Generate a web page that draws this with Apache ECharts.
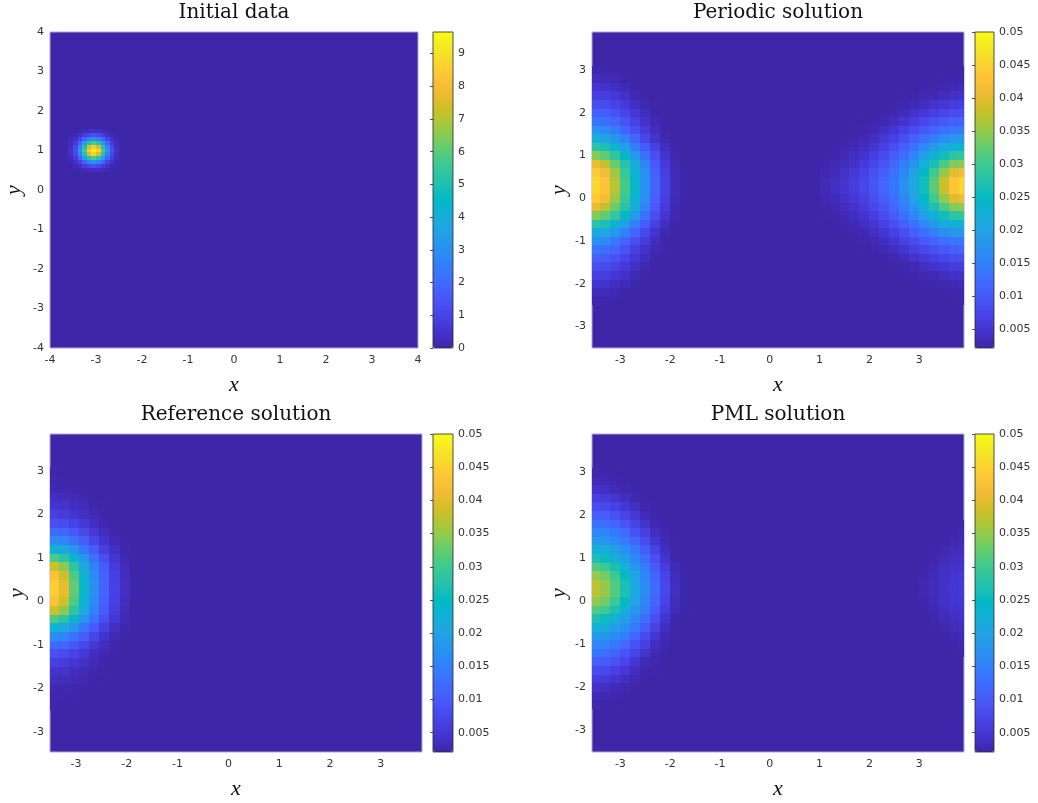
<!DOCTYPE html>
<html>
<head>
<meta charset="utf-8">
<script src="https://cdn.jsdelivr.net/npm/echarts@6/dist/echarts.min.js"></script>
<style>
html, body { margin: 0; padding: 0; background: #ffffff; }
#chart { width: 1038px; height: 803px; }
</style>
</head>
<body>
<div id="chart"></div>
<script>
// ---------------- colour map (MATLAB parula, every 3rd entry of the 64-colour table) ----------------
const parula = ['#3e26a8', '#4432cb', '#4741e5', '#4852f4', '#4563fd', '#3875fe', '#2e87f7', '#2796eb',
  '#20a5e3', '#12b1d6', '#02bac3', '#24c1ae', '#37c897', '#57cc7a', '#81cc59', '#abc739',
  '#d1bf27', '#f0ba36', '#fec338', '#fad62d', '#f5e924', '#f9fb15'];

// ---------------- text ----------------
const panelTitles = ['Initial data', 'Periodic solution', 'Reference solution', 'PML solution'];
const xAxisName = 'x';
const yAxisName = 'y';

// ---------------- panel 1: initial data ----------------
const initialAxisTicks = [-4, -3, -2, -1, 0, 1, 2, 3, 4];
const initialColorbarTicks = [0, 1, 2, 3, 4, 5, 6, 7, 8, 9];
const initialColorbarMin = 0;
const initialColorbarMax = 9.66;
const initialCell = 0.1;
const initialX = [-3.55, -3.45, -3.35, -3.25, -3.15, -3.05, -2.95, -2.85, -2.75, -2.65, -2.55];
const initialY = [1.5, 1.4, 1.3, 1.2, 1.1, 1.0, 0.9, 0.8, 0.7, 0.6, 0.5];
const initialValues = [
  [0.02, 0.05, 0.12, 0.23, 0.34, 0.39, 0.34, 0.23, 0.12, 0.05, 0.02],
  [0.05, 0.16, 0.39, 0.74, 1.09, 1.24, 1.09, 0.74, 0.39, 0.16, 0.05],
  [0.12, 0.39, 0.96, 1.82, 2.68, 3.05, 2.68, 1.82, 0.96, 0.39, 0.12],
  [0.23, 0.74, 1.82, 3.46, 5.09, 5.78, 5.09, 3.46, 1.82, 0.74, 0.23],
  [0.34, 1.09, 2.68, 5.09, 7.48, 8.50, 7.48, 5.09, 2.68, 1.09, 0.34],
  [0.39, 1.24, 3.05, 5.78, 8.50, 9.66, 8.50, 5.78, 3.05, 1.24, 0.39],
  [0.34, 1.09, 2.68, 5.09, 7.48, 8.50, 7.48, 5.09, 2.68, 1.09, 0.34],
  [0.23, 0.74, 1.82, 3.46, 5.09, 5.78, 5.09, 3.46, 1.82, 0.74, 0.23],
  [0.12, 0.39, 0.96, 1.82, 2.68, 3.05, 2.68, 1.82, 0.96, 0.39, 0.12],
  [0.05, 0.16, 0.39, 0.74, 1.09, 1.24, 1.09, 0.74, 0.39, 0.16, 0.05],
  [0.02, 0.05, 0.12, 0.23, 0.34, 0.39, 0.34, 0.23, 0.12, 0.05, 0.02]
];

// ---------------- panels 2-4: solutions (field values below are in units of 1e-3) ----------------
const solutionUnit = 1e-3;
const periodicXRange = [-3.57, 3.9];
const periodicYRange = [-3.5, 3.89];
const referenceXRange = [-3.51, 3.81];
const referenceYRange = [-3.46, 3.85];
const pmlXRange = [-3.57, 3.9];
const pmlYRange = [-3.5, 3.89];
const solutionAxisTicks = [-3, -2, -1, 0, 1, 2, 3];
const solutionColorbarTicks = [0.005, 0.01, 0.015, 0.02, 0.025, 0.03, 0.035, 0.04, 0.045, 0.05];
const solutionColorbarMin = 0.0021;
const solutionColorbarMax = 0.05;
const solutionCell = 0.2;
const solutionY = [3.0, 2.8, 2.6, 2.4, 2.2, 2.0, 1.8, 1.6, 1.4, 1.2, 1.0, 0.8, 0.6, 0.4,
  0.2, 0.0, -0.2, -0.4, -0.6, -0.8, -1.0, -1.2, -1.4, -1.6, -1.8, -2.0, -2.2, -2.4];
const leftBlobX = [-3.5, -3.3, -3.1, -2.9, -2.7, -2.5, -2.3, -2.1, -1.9, -1.7];
const referenceBlobX = [-3.44, -3.24, -3.04, -2.84, -2.64, -2.44, -2.24, -2.04, -1.84, -1.64];
const rightBlobX = [1.1, 1.3, 1.5, 1.7, 1.9, 2.1, 2.3, 2.5, 2.7, 2.9, 3.1, 3.3, 3.5, 3.7, 3.9];
const pmlRightX = [3.1, 3.3, 3.5, 3.7, 3.9];
const pmlRightY = [1.8, 1.6, 1.4, 1.2, 1.0, 0.8, 0.6, 0.4, 0.2, 0.0, -0.2, -0.4, -0.6, -0.8, -1.0, -1.2];

const periodicLeft = [
  [2.5, 2.4, 2.2, 2.1, 2.1, 2.1, 2.1, 2.1, 2.1, 2.1],
  [3.4, 3.1, 2.8, 2.3, 2.1, 2.1, 2.1, 2.1, 2.1, 2.1],
  [4.8, 4.4, 3.8, 3.0, 2.3, 2.1, 2.1, 2.1, 2.1, 2.1],
  [6.4, 6.0, 5.1, 4.0, 2.9, 2.3, 2.1, 2.1, 2.1, 2.1],
  [8.5, 7.9, 6.9, 5.4, 3.9, 2.7, 2.2, 2.1, 2.1, 2.1],
  [11.0, 10.3, 8.9, 7.1, 5.2, 3.4, 2.3, 2.1, 2.1, 2.1],
  [13.6, 12.8, 11.3, 9.1, 6.7, 4.4, 2.8, 2.2, 2.1, 2.1],
  [17.3, 16.4, 14.1, 11.5, 8.5, 5.8, 3.5, 2.3, 2.1, 2.1],
  [21.8, 20.6, 18.2, 14.9, 11.2, 7.6, 4.7, 2.7, 2.1, 2.1],
  [27.9, 26.6, 23.5, 19.3, 14.8, 10.3, 6.5, 3.6, 2.2, 2.1],
  [34.1, 32.1, 28.8, 24.2, 18.6, 12.9, 8.4, 4.8, 2.6, 2.1],
  [40.6, 37.7, 32.6, 27.6, 21.4, 15.4, 9.9, 5.7, 2.9, 2.1],
  [44.1, 41.5, 35.5, 29.4, 23.2, 16.8, 10.8, 6.3, 3.2, 2.2],
  [45.6, 42.9, 37.0, 30.3, 23.9, 17.3, 11.2, 6.6, 3.4, 2.2],
  [45.6, 42.9, 37.0, 30.3, 23.9, 17.3, 11.2, 6.6, 3.4, 2.2],
  [44.1, 41.5, 35.5, 29.4, 23.2, 16.8, 10.8, 6.3, 3.2, 2.2],
  [40.6, 37.7, 32.6, 27.6, 21.4, 15.4, 9.9, 5.7, 2.9, 2.1],
  [34.1, 32.1, 28.8, 24.2, 18.6, 12.9, 8.4, 4.8, 2.6, 2.1],
  [27.9, 26.6, 23.5, 19.3, 14.8, 10.3, 6.5, 3.6, 2.2, 2.1],
  [21.8, 20.6, 18.2, 14.9, 11.2, 7.6, 4.7, 2.7, 2.1, 2.1],
  [17.3, 16.4, 14.1, 11.5, 8.5, 5.8, 3.5, 2.3, 2.1, 2.1],
  [13.6, 12.8, 11.3, 9.1, 6.7, 4.4, 2.8, 2.2, 2.1, 2.1],
  [11.0, 10.3, 8.9, 7.1, 5.2, 3.4, 2.3, 2.1, 2.1, 2.1],
  [8.5, 7.9, 6.9, 5.4, 3.9, 2.7, 2.2, 2.1, 2.1, 2.1],
  [6.4, 6.0, 5.1, 4.0, 2.9, 2.3, 2.1, 2.1, 2.1, 2.1],
  [4.8, 4.4, 3.8, 3.0, 2.3, 2.1, 2.1, 2.1, 2.1, 2.1],
  [3.4, 3.1, 2.8, 2.3, 2.1, 2.1, 2.1, 2.1, 2.1, 2.1],
  [2.5, 2.4, 2.2, 2.1, 2.1, 2.1, 2.1, 2.1, 2.1, 2.1]
];

const periodicRight = [
  [2.1, 2.1, 2.1, 2.1, 2.1, 2.1, 2.1, 2.1, 2.1, 2.1, 2.1, 2.1, 2.1, 2.1, 2.2],
  [2.1, 2.1, 2.1, 2.1, 2.1, 2.1, 2.1, 2.1, 2.1, 2.1, 2.1, 2.1, 2.2, 2.3, 2.4],
  [2.1, 2.1, 2.1, 2.1, 2.1, 2.1, 2.1, 2.1, 2.1, 2.1, 2.2, 2.4, 2.6, 2.9, 3.1],
  [2.1, 2.1, 2.1, 2.1, 2.1, 2.1, 2.1, 2.1, 2.2, 2.3, 2.6, 2.9, 3.5, 4.1, 4.4],
  [2.1, 2.1, 2.1, 2.1, 2.1, 2.1, 2.1, 2.2, 2.5, 2.9, 3.7, 4.5, 5.1, 5.8, 6.2],
  [2.1, 2.1, 2.1, 2.1, 2.1, 2.1, 2.3, 2.6, 3.4, 4.3, 5.3, 6.4, 7.3, 8.1, 8.4],
  [2.1, 2.1, 2.1, 2.1, 2.2, 2.4, 2.9, 3.7, 4.8, 6.1, 7.5, 8.7, 9.8, 10.7, 11.1],
  [2.1, 2.1, 2.1, 2.2, 2.4, 2.9, 3.8, 5.1, 6.6, 8.2, 9.9, 11.4, 12.9, 13.9, 14.4],
  [2.1, 2.1, 2.2, 2.4, 2.9, 3.8, 5.1, 6.7, 8.6, 10.5, 12.7, 14.8, 16.6, 18.0, 18.5],
  [2.1, 2.2, 2.4, 2.9, 3.7, 4.9, 6.6, 8.5, 10.6, 13.1, 15.9, 18.8, 21.4, 23.0, 23.5],
  [2.2, 2.4, 2.9, 3.7, 4.7, 6.2, 8.0, 10.1, 12.7, 15.7, 19.4, 23.0, 25.9, 28.2, 28.9],
  [2.4, 2.8, 3.5, 4.4, 5.7, 7.4, 9.3, 11.6, 14.5, 17.9, 22.4, 26.6, 30.8, 33.8, 34.9],
  [2.7, 3.3, 4.2, 5.3, 6.7, 8.4, 10.4, 12.9, 16.0, 20.0, 24.7, 29.9, 35.0, 39.7, 41.4],
  [3.0, 3.8, 4.8, 6.1, 7.6, 9.3, 11.3, 13.8, 16.8, 20.9, 25.9, 31.8, 38.1, 43.4, 45.3],
  [3.0, 3.8, 4.8, 6.1, 7.6, 9.3, 11.3, 13.8, 16.8, 20.9, 25.9, 31.8, 38.1, 43.4, 45.3],
  [2.7, 3.3, 4.2, 5.3, 6.7, 8.4, 10.4, 12.9, 16.0, 20.0, 24.7, 29.9, 35.0, 39.7, 41.4],
  [2.4, 2.8, 3.5, 4.4, 5.7, 7.4, 9.3, 11.6, 14.5, 17.9, 22.4, 26.6, 30.8, 33.8, 34.9],
  [2.2, 2.4, 2.9, 3.7, 4.7, 6.2, 8.0, 10.1, 12.7, 15.7, 19.4, 23.0, 25.9, 28.2, 28.9],
  [2.1, 2.2, 2.4, 2.9, 3.7, 4.9, 6.6, 8.5, 10.6, 13.1, 15.9, 18.8, 21.4, 23.0, 23.5],
  [2.1, 2.1, 2.2, 2.4, 2.9, 3.8, 5.1, 6.7, 8.6, 10.5, 12.7, 14.8, 16.6, 18.0, 18.5],
  [2.1, 2.1, 2.1, 2.2, 2.4, 2.9, 3.8, 5.1, 6.6, 8.2, 9.9, 11.4, 12.9, 13.9, 14.4],
  [2.1, 2.1, 2.1, 2.1, 2.2, 2.4, 2.9, 3.7, 4.8, 6.1, 7.5, 8.7, 9.8, 10.7, 11.1],
  [2.1, 2.1, 2.1, 2.1, 2.1, 2.1, 2.3, 2.6, 3.4, 4.3, 5.3, 6.4, 7.3, 8.1, 8.4],
  [2.1, 2.1, 2.1, 2.1, 2.1, 2.1, 2.1, 2.2, 2.5, 2.9, 3.7, 4.5, 5.1, 5.8, 6.2],
  [2.1, 2.1, 2.1, 2.1, 2.1, 2.1, 2.1, 2.1, 2.2, 2.3, 2.6, 2.9, 3.5, 4.1, 4.4],
  [2.1, 2.1, 2.1, 2.1, 2.1, 2.1, 2.1, 2.1, 2.1, 2.1, 2.2, 2.4, 2.6, 2.9, 3.1],
  [2.1, 2.1, 2.1, 2.1, 2.1, 2.1, 2.1, 2.1, 2.1, 2.1, 2.1, 2.1, 2.2, 2.3, 2.4],
  [2.1, 2.1, 2.1, 2.1, 2.1, 2.1, 2.1, 2.1, 2.1, 2.1, 2.1, 2.1, 2.1, 2.1, 2.2]
];

const referenceLeft = [
  [2.2, 2.1, 2.1, 2.1, 2.1, 2.1, 2.1, 2.1, 2.1, 2.1],
  [2.4, 2.3, 2.2, 2.1, 2.1, 2.1, 2.1, 2.1, 2.1, 2.1],
  [2.9, 2.7, 2.5, 2.2, 2.1, 2.1, 2.1, 2.1, 2.1, 2.1],
  [3.6, 3.4, 3.0, 2.6, 2.2, 2.1, 2.1, 2.1, 2.1, 2.1],
  [4.8, 4.4, 3.8, 3.1, 2.5, 2.2, 2.1, 2.1, 2.1, 2.1],
  [6.4, 5.8, 5.0, 4.0, 3.0, 2.3, 2.1, 2.1, 2.1, 2.1],
  [8.7, 8.0, 6.8, 5.3, 3.8, 2.7, 2.2, 2.1, 2.1, 2.1],
  [12.2, 11.4, 9.7, 7.4, 5.3, 3.5, 2.5, 2.1, 2.1, 2.1],
  [16.6, 15.4, 13.1, 10.4, 7.3, 4.7, 3.0, 2.2, 2.1, 2.1],
  [22.9, 21.3, 18.0, 13.9, 10.1, 6.4, 3.9, 2.5, 2.1, 2.1],
  [30.8, 28.3, 23.6, 18.2, 12.9, 8.5, 5.0, 2.9, 2.2, 2.1],
  [38.4, 34.6, 28.2, 21.5, 15.2, 10.1, 5.9, 3.3, 2.2, 2.1],
  [42.6, 38.5, 30.9, 23.2, 16.4, 10.9, 6.3, 3.5, 2.3, 2.1],
  [44.5, 40.2, 32.2, 24.1, 17.0, 11.2, 6.6, 3.6, 2.3, 2.1],
  [44.5, 40.2, 32.2, 24.1, 17.0, 11.2, 6.6, 3.6, 2.3, 2.1],
  [42.6, 38.5, 30.9, 23.2, 16.4, 10.9, 6.3, 3.5, 2.3, 2.1],
  [38.4, 34.6, 28.2, 21.5, 15.2, 10.1, 5.9, 3.3, 2.2, 2.1],
  [30.8, 28.3, 23.6, 18.2, 12.9, 8.5, 5.0, 2.9, 2.2, 2.1],
  [22.9, 21.3, 18.0, 13.9, 10.1, 6.4, 3.9, 2.5, 2.1, 2.1],
  [16.6, 15.4, 13.1, 10.4, 7.3, 4.7, 3.0, 2.2, 2.1, 2.1],
  [12.2, 11.4, 9.7, 7.4, 5.3, 3.5, 2.5, 2.1, 2.1, 2.1],
  [8.7, 8.0, 6.8, 5.3, 3.8, 2.7, 2.2, 2.1, 2.1, 2.1],
  [6.4, 5.8, 5.0, 4.0, 3.0, 2.3, 2.1, 2.1, 2.1, 2.1],
  [4.8, 4.4, 3.8, 3.1, 2.5, 2.2, 2.1, 2.1, 2.1, 2.1],
  [3.6, 3.4, 3.0, 2.6, 2.2, 2.1, 2.1, 2.1, 2.1, 2.1],
  [2.9, 2.7, 2.5, 2.2, 2.1, 2.1, 2.1, 2.1, 2.1, 2.1],
  [2.4, 2.3, 2.2, 2.1, 2.1, 2.1, 2.1, 2.1, 2.1, 2.1],
  [2.2, 2.1, 2.1, 2.1, 2.1, 2.1, 2.1, 2.1, 2.1, 2.1]
];

const pmlLeft = [
  [2.4, 2.3, 2.2, 2.1, 2.1, 2.1, 2.1, 2.1, 2.1, 2.1],
  [3.0, 2.8, 2.5, 2.3, 2.1, 2.1, 2.1, 2.1, 2.1, 2.1],
  [4.3, 3.9, 3.2, 2.7, 2.3, 2.1, 2.1, 2.1, 2.1, 2.1],
  [6.2, 5.7, 4.8, 3.7, 2.8, 2.3, 2.1, 2.1, 2.1, 2.1],
  [8.2, 7.7, 6.7, 5.2, 3.6, 2.5, 2.2, 2.1, 2.1, 2.1],
  [10.7, 10.1, 8.8, 7.2, 5.2, 3.3, 2.4, 2.1, 2.1, 2.1],
  [13.5, 12.8, 11.3, 9.2, 7.1, 4.6, 2.8, 2.2, 2.1, 2.1],
  [16.0, 15.3, 14.1, 11.8, 9.0, 6.3, 3.6, 2.4, 2.1, 2.1],
  [18.7, 17.9, 16.4, 14.4, 11.4, 8.1, 5.0, 2.8, 2.2, 2.1],
  [22.4, 21.4, 19.4, 16.8, 14.1, 10.3, 6.8, 3.6, 2.3, 2.1],
  [26.9, 25.6, 22.8, 19.5, 16.2, 12.6, 8.4, 4.8, 2.5, 2.1],
  [31.3, 29.7, 26.7, 22.4, 18.2, 14.5, 10.1, 6.1, 3.0, 2.2],
  [35.0, 33.1, 29.7, 25.1, 20.1, 15.8, 11.4, 7.0, 3.4, 2.2],
  [37.4, 35.2, 31.4, 26.6, 21.1, 16.5, 12.2, 7.5, 3.8, 2.3],
  [37.4, 35.2, 31.4, 26.6, 21.1, 16.5, 12.2, 7.5, 3.8, 2.3],
  [35.0, 33.1, 29.7, 25.1, 20.1, 15.8, 11.4, 7.0, 3.4, 2.2],
  [31.3, 29.7, 26.7, 22.4, 18.2, 14.5, 10.1, 6.1, 3.0, 2.2],
  [26.9, 25.6, 22.8, 19.5, 16.2, 12.6, 8.4, 4.8, 2.5, 2.1],
  [22.4, 21.4, 19.4, 16.8, 14.1, 10.3, 6.8, 3.6, 2.3, 2.1],
  [18.7, 17.9, 16.4, 14.4, 11.4, 8.1, 5.0, 2.8, 2.2, 2.1],
  [16.0, 15.3, 14.1, 11.8, 9.0, 6.3, 3.6, 2.4, 2.1, 2.1],
  [13.5, 12.8, 11.3, 9.2, 7.1, 4.6, 2.8, 2.2, 2.1, 2.1],
  [10.7, 10.1, 8.8, 7.2, 5.2, 3.3, 2.4, 2.1, 2.1, 2.1],
  [8.2, 7.7, 6.7, 5.2, 3.6, 2.5, 2.2, 2.1, 2.1, 2.1],
  [6.2, 5.7, 4.8, 3.7, 2.8, 2.3, 2.1, 2.1, 2.1, 2.1],
  [4.3, 3.9, 3.2, 2.7, 2.3, 2.1, 2.1, 2.1, 2.1, 2.1],
  [3.0, 2.8, 2.5, 2.3, 2.1, 2.1, 2.1, 2.1, 2.1, 2.1],
  [2.4, 2.3, 2.2, 2.1, 2.1, 2.1, 2.1, 2.1, 2.1, 2.1]
];

const pmlRight = [
  [2.1, 2.1, 2.1, 2.1, 2.3],
  [2.1, 2.1, 2.1, 2.3, 2.6],
  [2.1, 2.1, 2.3, 2.7, 3.1],
  [2.1, 2.2, 2.6, 3.2, 3.7],
  [2.1, 2.4, 3.1, 3.8, 4.3],
  [2.2, 2.8, 3.6, 4.3, 4.8],
  [2.4, 3.2, 4.0, 4.7, 5.2],
  [2.6, 3.4, 4.2, 4.9, 5.4],
  [2.6, 3.4, 4.2, 4.9, 5.4],
  [2.4, 3.2, 4.0, 4.7, 5.2],
  [2.2, 2.8, 3.6, 4.3, 4.8],
  [2.1, 2.4, 3.1, 3.8, 4.3],
  [2.1, 2.2, 2.6, 3.2, 3.7],
  [2.1, 2.1, 2.3, 2.7, 3.1],
  [2.1, 2.1, 2.1, 2.3, 2.6],
  [2.1, 2.1, 2.1, 2.1, 2.3]
];

// ---------------- layout (pixels) ----------------
const plotBoxes = [
  { left: 50, top: 32, width: 368, height: 316 },
  { left: 592, top: 32, width: 372, height: 316 },
  { left: 50, top: 434, width: 372, height: 318 },
  { left: 592, top: 434, width: 372, height: 318 }
];
const barBoxes = [
  { left: 433, top: 32, width: 20, height: 316 },
  { left: 975, top: 32, width: 19, height: 316 },
  { left: 433, top: 434, width: 20, height: 318 },
  { left: 975, top: 434, width: 19, height: 318 }
];
const titleAnchors = [[234, 3], [778, 3], [236, 405], [778, 405]];
const axisRanges = [
  { x: [-4, 4], y: [-4, 4], ticks: initialAxisTicks },
  { x: periodicXRange, y: periodicYRange, ticks: solutionAxisTicks },
  { x: referenceXRange, y: referenceYRange, ticks: solutionAxisTicks },
  { x: pmlXRange, y: pmlYRange, ticks: solutionAxisTicks }
];

// ---------------- build ----------------
function toCells(xs, ys, grid, scale) {
  const out = [];
  ys.forEach(function (y, j) {
    xs.forEach(function (x, i) { out.push([x, y, grid[j][i] * scale]); });
  });
  return out;
}

function cellRenderer(cw, ch) {
  return function (params, api) {
    const x = api.value(0), y = api.value(1);
    const p0 = api.coord([x - cw / 2, y + ch / 2]);
    const p1 = api.coord([x + cw / 2, y - ch / 2]);
    const x0 = Math.round(p0[0]), y0 = Math.round(p0[1]);
    const x1 = Math.round(p1[0]), y1 = Math.round(p1[1]);
    const cs = params.coordSys;
    const rect = echarts.graphic.clipRectByRect(
      { x: x0, y: y0, width: x1 - x0, height: y1 - y0 },
      { x: cs.x, y: cs.y, width: cs.width, height: cs.height });
    if (!rect) return null;
    return { type: 'rect', shape: rect, style: { fill: api.visual('color') } };
  };
}

const tickFont = { fontFamily: 'DejaVu Sans', fontSize: 11, color: '#333333' };
const nameFont = { fontFamily: 'Liberation Serif', fontStyle: 'italic', fontSize: 22, color: '#111111' };

const grids = [];
const xAxes = [];
const yAxes = [];
plotBoxes.forEach(function (b, i) {
  grids.push({ left: b.left, top: b.top, width: b.width, height: b.height, show: true,
    backgroundColor: parula[0], borderColor: '#aba8da', borderWidth: 1, outerBoundsMode: 'none' });
  const r = axisRanges[i];
  xAxes.push({ gridIndex: i, type: 'value', min: r.x[0], max: r.x[1],
    axisLine: { show: false }, axisTick: { show: false }, splitLine: { show: false },
    axisLabel: Object.assign({ customValues: r.ticks, margin: 7 }, tickFont),
    name: xAxisName, nameLocation: 'middle', nameGap: 26, nameTextStyle: nameFont });
  yAxes.push({ gridIndex: i, type: 'value', min: r.y[0], max: r.y[1],
    axisLine: { show: false }, axisTick: { show: false }, splitLine: { show: false },
    axisLabel: Object.assign({ customValues: r.ticks, margin: 6 }, tickFont),
    name: yAxisName, nameLocation: 'middle', nameRotate: 90, nameGap: i === 0 ? 25 : 22, nameTextStyle: nameFont });
});
barBoxes.forEach(function (b, i) {
  const isInit = i === 0;
  grids.push({ left: b.left, top: b.top, width: b.width, height: b.height, show: true, z: 6,
    backgroundColor: 'transparent', borderColor: '#262626', borderWidth: 0.8, outerBoundsMode: 'none' });
  xAxes.push({ gridIndex: 4 + i, type: 'value', show: false, min: 0, max: 1 });
  const ticks = isInit ? initialColorbarTicks : solutionColorbarTicks;
  yAxes.push({ gridIndex: 4 + i, type: 'value', position: 'right', z: 7,
    min: isInit ? initialColorbarMin : solutionColorbarMin,
    max: isInit ? initialColorbarMax : solutionColorbarMax,
    axisLine: { show: false }, splitLine: { show: false },
    axisTick: { show: true, inside: true, length: 3, customValues: ticks, lineStyle: { color: '#262626', width: 0.8 } },
    axisLabel: Object.assign({ customValues: ticks, margin: 5,
      formatter: function (v) { return String(+(+v).toFixed(4)); } }, tickFont) });
});

const series = [
  { type: 'custom', xAxisIndex: 0, yAxisIndex: 0, silent: true, renderItem: cellRenderer(initialCell, initialCell),
    data: toCells(initialX, initialY, initialValues, 1) },
  { type: 'custom', xAxisIndex: 1, yAxisIndex: 1, silent: true, renderItem: cellRenderer(solutionCell, solutionCell),
    data: toCells(leftBlobX, solutionY, periodicLeft, solutionUnit) },
  { type: 'custom', xAxisIndex: 1, yAxisIndex: 1, silent: true, renderItem: cellRenderer(solutionCell, solutionCell),
    data: toCells(rightBlobX, solutionY, periodicRight, solutionUnit) },
  { type: 'custom', xAxisIndex: 2, yAxisIndex: 2, silent: true, renderItem: cellRenderer(solutionCell, solutionCell),
    data: toCells(referenceBlobX, solutionY, referenceLeft, solutionUnit) },
  { type: 'custom', xAxisIndex: 3, yAxisIndex: 3, silent: true, renderItem: cellRenderer(solutionCell, solutionCell),
    data: toCells(leftBlobX, solutionY, pmlLeft, solutionUnit) },
  { type: 'custom', xAxisIndex: 3, yAxisIndex: 3, silent: true, renderItem: cellRenderer(solutionCell, solutionCell),
    data: toCells(pmlRightX, pmlRightY, pmlRight, solutionUnit) }
];

const seriesOfPanel = [[0], [1, 2], [3], [4, 5]];
const visualMaps = barBoxes.map(function (b, i) {
  const isInit = i === 0;
  return { type: 'continuous', seriesIndex: seriesOfPanel[i], dimension: 2,
    min: isInit ? initialColorbarMin : solutionColorbarMin,
    max: isInit ? initialColorbarMax : solutionColorbarMax,
    inRange: { color: parula }, calculable: false, hoverLink: false, text: null,
    left: b.left, top: b.top, itemWidth: b.width, itemHeight: b.height, padding: 0, borderWidth: 0 };
});

const titles = panelTitles.map(function (t, i) {
  return { text: t, left: titleAnchors[i][0], top: titleAnchors[i][1], textAlign: 'center', padding: 0,
    textStyle: { fontFamily: 'DejaVu Serif', fontSize: 20, fontWeight: 'normal', color: '#111111' } };
});

const chart = echarts.init(document.getElementById('chart'), null, { renderer: 'canvas' });
chart.setOption({
  animation: false,
  backgroundColor: '#ffffff',
  title: titles,
  grid: grids,
  xAxis: xAxes,
  yAxis: yAxes,
  visualMap: visualMaps,
  series: series
});
</script>
</body>
</html>
